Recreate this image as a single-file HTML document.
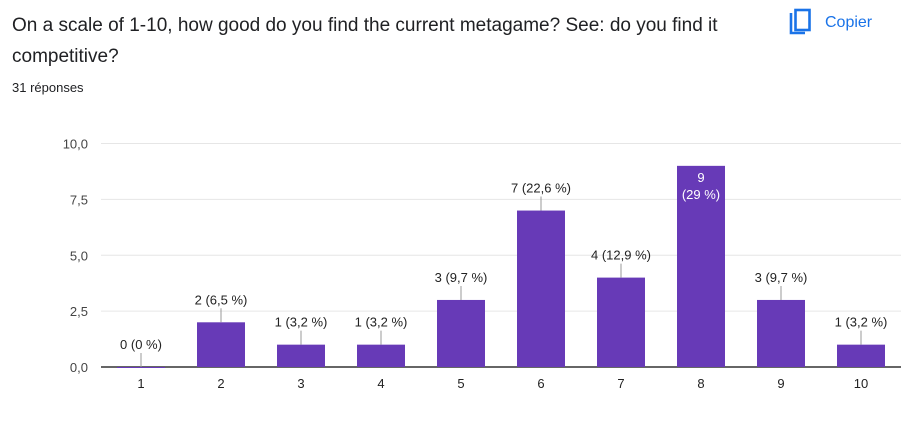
<!DOCTYPE html>
<html><head><meta charset="utf-8"><style>
body{margin:0;background:#fff;width:909px;height:426px;overflow:hidden;font-family:"Liberation Sans",Arial,sans-serif;}
.title{position:absolute;left:12px;top:10px;width:760px;font-size:19px;line-height:31px;color:#202124;}
.sub{position:absolute;left:12px;top:80px;font-size:13px;color:#202124;}
.copy{position:absolute;left:787px;top:8px;display:flex;align-items:center;color:#1a73e8;font-size:16px;}
</style></head><body>
<div class="title">On a scale of 1-10, how good do you find the current metagame? See: do you find it competitive?</div>
<div class="sub">31 réponses</div>
<div class="copy">
<svg width="26" height="30" viewBox="0 0 26 30"><path d="M4 5 V25 H18" fill="none" stroke="#1a73e8" stroke-width="2.6"/><rect x="8.5" y="2" width="14" height="20" fill="none" stroke="#1a73e8" stroke-width="2.6"/></svg>
<span style="margin-left:12px">Copier</span></div>
<svg id="chart" width="909" height="426" style="position:absolute;left:0;top:0"></svg>
<script>
const categories=["1","2","3","4","5","6","7","8","9","10"];
const counts=[0,2,1,1,3,7,4,9,3,1];
const labels=["0 (0 %)","2 (6,5 %)","1 (3,2 %)","1 (3,2 %)","3 (9,7 %)","7 (22,6 %)","4 (12,9 %)","9|(29 %)","3 (9,7 %)","1 (3,2 %)"];
const yTicks=[0,2.5,5,7.5,10];
const yTickLabels=["0,0","2,5","5,0","7,5","10,0"];
const NS="http://www.w3.org/2000/svg";
const svg=document.getElementById('chart');
const x0=101,x1=901,y0=367,yTop=143.5,yMax=10;
const y=v=>y0-(v/yMax)*(y0-yTop);
const band=(x1-x0)/categories.length;
const xc=i=>x0+band*(i+0.5);
const bw=48;
function mk(t,a){const e=document.createElementNS(NS,t);for(const k in a)e.setAttribute(k,a[k]);svg.appendChild(e);return e;}
yTicks.forEach((t,i)=>{
 const g=mk('line',{x1:x0,x2:x1,y1:y(t),y2:y(t),stroke:t===0?'#333':'#e6e6e6','stroke-width':t===0?1.5:1});
 
 
 const l=mk('text',{x:x0-13,y:y(t)+5,'text-anchor':'end','font-size':13,fill:'#444'});
 l.textContent=yTickLabels[i];
 
 
});
categories.forEach((c,i)=>{
 const v=counts[i],cx=xc(i),top=y(v);
 const r=mk('rect',{x:cx-bw/2,y:top,width:bw,height:Math.max(y0-top,1),fill:'#673ab7'});
 
 
 const xl=mk('text',{x:cx,y:y0+21,'text-anchor':'middle','font-size':13,fill:'#222'});
 xl.textContent=c;
 
 
 const parts=labels[i].split('|');
 if(parts.length>1){
  parts.forEach((p,k)=>{
   const t=mk('text',{x:cx,y:top+16+k*17,'text-anchor':'middle','font-size':13,fill:'#fff'});
   t.textContent=p;
   
   
  });
 } else {
  const ln=mk('line',{x1:cx,x2:cx,y1:top,y2:top-14,stroke:'#999','stroke-width':1});
  
  
  const t=mk('text',{x:cx,y:top-18,'text-anchor':'middle','font-size':13,fill:'#222'});
  t.textContent=parts[0];
  
  
 }
});
</script>
</body></html>
